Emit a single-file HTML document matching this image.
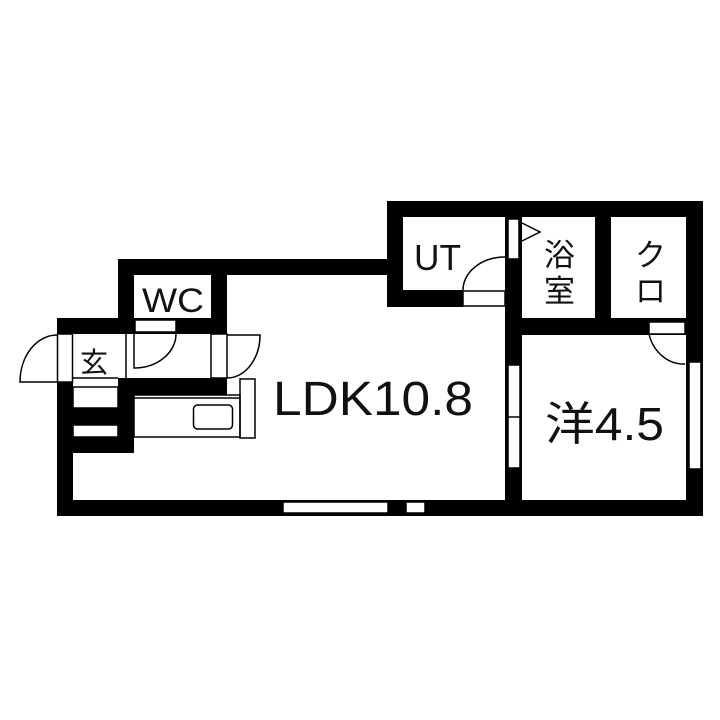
<!DOCTYPE html>
<html><head><meta charset="utf-8"><style>html,body{margin:0;padding:0;background:#fff}svg{display:block}</style></head>
<body>
<svg width="720" height="720" viewBox="0 0 720 720" xmlns="http://www.w3.org/2000/svg">
<rect width="720" height="720" fill="#fff"/>
<g fill="#000">
<!-- left building outer walls -->
<rect x="57" y="318" width="16" height="198"/>
<rect x="57" y="500" width="646" height="16"/>
<rect x="57" y="318" width="77" height="16"/>
<rect x="118" y="259" width="16" height="75"/>
<rect x="118" y="259" width="280" height="16"/>
<rect x="211" y="259" width="16" height="75"/>
<rect x="134" y="318" width="92" height="16"/>
<!-- below corridor -->
<rect x="118" y="378" width="109" height="17"/>
<rect x="118" y="378" width="16" height="75"/>
<rect x="73" y="408" width="61" height="17"/>
<rect x="73" y="437" width="61" height="16"/>
<!-- right block -->
<rect x="387" y="201" width="316" height="16"/>
<rect x="387" y="201" width="16" height="106"/>
<rect x="387" y="290" width="76" height="17"/>
<rect x="686" y="201" width="17" height="315"/>
<rect x="505" y="217" width="17" height="286"/>
<rect x="595" y="217" width="16" height="117"/>
<rect x="505" y="318" width="181" height="17"/>
</g>
<!-- white openings -->
<g fill="#fff" stroke="#000" stroke-width="1.5">
<rect x="57.5" y="334" width="15" height="48"/>
<rect x="135" y="320" width="41" height="12"/>
<rect x="211" y="334" width="16" height="44"/>
<rect x="73" y="387" width="45" height="21"/>
<rect x="73" y="425" width="45" height="12"/>
<rect x="463" y="291" width="42" height="15"/>
<rect x="508" y="219" width="11" height="40"/>
<rect x="649" y="322" width="36" height="12"/>
<rect x="508" y="365" width="12" height="103"/>
<rect x="689" y="362" width="12" height="107"/>
<rect x="283" y="502" width="105" height="11"/>
<rect x="406" y="502" width="19" height="11"/>
</g>
<g fill="none" stroke="#000" stroke-width="1.5">
<line x1="508" y1="417" x2="520" y2="417"/>
<line x1="126" y1="334" x2="126" y2="378"/>
<line x1="73" y1="378" x2="118" y2="378"/>
<!-- entry door -->
<path d="M57 335 A37 47 0 0 0 20 382 L57 382"/>
<!-- WC door -->
<path d="M134 334 L134 368 A42 34 0 0 0 176 334"/>
<!-- LDK door -->
<path d="M227 335 L260 335 A33 43 0 0 1 227 378"/>
<!-- UT door -->
<path d="M463 290 A42 33 0 0 1 505 257"/>
<!-- closet door -->
<path d="M649 334 A36 40 0 0 0 685 364"/>
<!-- bath triangle -->
<path d="M522 223 L540 232 L522 241"/>
<!-- kitchen -->
<rect x="134" y="395" width="106" height="42"/>
<line x1="134" y1="398" x2="240" y2="398"/>
<rect x="193.5" y="405" width="39" height="24" rx="4"/>
<rect x="240" y="379" width="15" height="59"/>
</g>
<g font-family="'Liberation Sans','Noto Sans CJK JP',sans-serif" fill="#111">
<text x="273" y="415" font-size="48" textLength="200" lengthAdjust="spacingAndGlyphs">LDK10.8</text>
<text x="545" y="440" font-size="46" textLength="119" lengthAdjust="spacingAndGlyphs">洋4.5</text>
<text x="414" y="270" font-size="36" textLength="47" lengthAdjust="spacingAndGlyphs">UT</text>
<text x="142" y="312" font-size="34" textLength="62" lengthAdjust="spacingAndGlyphs">WC</text>
<text x="544" y="266" font-size="31">浴</text>
<text x="544" y="302" font-size="31">室</text>
<text x="635" y="266" font-size="31">ク</text>
<text x="635" y="302" font-size="31">ロ</text>
<text x="80" y="372" font-size="28">玄</text>
</g>
</svg>
</body></html>
